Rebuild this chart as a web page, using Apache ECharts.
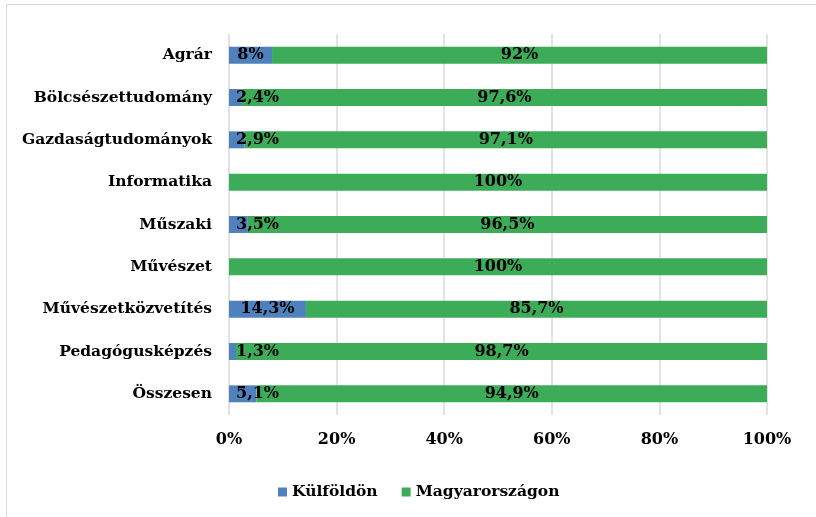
<!DOCTYPE html>
<html lang="hu">
<head>
  <meta charset="UTF-8">
  <title>Külföldön / Magyarországon</title>
  <script src="https://cdn.jsdelivr.net/npm/echarts@6/dist/echarts.min.js"></script>
  <style>
    body { margin: 0; background: #fff; }
    #chart { width: 816px; height: 517px; }
    .frame {
      position: absolute; left: 6px; top: 4px;
      width: 830px; height: 540px;
      border: 1px solid #d9d9d9;
      pointer-events: none;
    }
  </style>
</head>
<body>
  <div id="chart"></div>
  <div class="frame"></div>
  <script>
    // categories top to bottom, as in the picture
    const categories = ['Agrár', 'Bölcsészettudomány', 'Gazdaságtudományok', 'Informatika',
      'Műszaki', 'Művészet', 'Művészetközvetítés', 'Pedagógusképzés', 'Összesen'];
    const kulfoldon = [8, 2.4, 2.9, 0, 3.5, 0, 14.3, 1.3, 5.1];
    const magyarorszagon = [92, 97.6, 97.1, 100, 96.5, 100, 85.7, 98.7, 94.9];
    const xTicks = [0, 20, 40, 60, 80, 100];

    const FONT = 'DejaVu Serif';
    const pct = v => String(v).replace('.', ',') + '%';

    const chart = echarts.init(document.getElementById('chart'));

    const labelBase = {
      show: true,
      color: '#000',
      fontFamily: FONT,
      fontWeight: 'bold',
      fontSize: 16
    };

    chart.setOption({
      animation: false,
      grid: { left: 229, right: 49, top: 34, bottom: 102, containLabel: false },
      legend: {
        left: 273,
        top: 479,
        itemWidth: 9,
        itemHeight: 9,
        itemGap: 24,
        icon: 'rect',
        textStyle: { fontFamily: FONT, fontWeight: 'bold', fontSize: 15.5, color: '#000' },
        data: ['Külföldön', 'Magyarországon']
      },
      xAxis: {
        type: 'value',
        min: 0,
        max: 100,
        interval: 20,
        axisLine: { show: false },
        axisTick: { show: false },
        axisLabel: {
          margin: 17,
          color: '#000',
          fontFamily: FONT,
          fontWeight: 'bold',
          fontSize: 16,
          formatter: v => xTicks.includes(v) ? v + '%' : ''
        },
        splitLine: { lineStyle: { color: '#d9d9d9', width: 1.5 } }
      },
      yAxis: {
        type: 'category',
        data: categories,
        inverse: true,
        axisLine: { show: false },
        axisTick: { show: false },
        axisLabel: {
          margin: 17,
          color: '#000',
          fontFamily: FONT,
          fontWeight: 'bold',
          fontSize: 15.5
        }
      },
      series: [
        {
          name: 'Külföldön',
          type: 'bar',
          stack: 'total',
          barCategoryGap: '60%',
          itemStyle: { color: '#4f81bd' },
          data: kulfoldon.map(v => ({
            value: v,
            label: Object.assign({}, labelBase, {
              position: v < 6 ? 'insideLeft' : 'inside',
              distance: 7,
              formatter: p => p.value > 0 ? pct(p.value) : ''
            })
          }))
        },
        {
          name: 'Magyarországon',
          type: 'bar',
          stack: 'total',
          barCategoryGap: '60%',
          itemStyle: { color: '#3cac58' },
          label: Object.assign({}, labelBase, {
            position: 'inside',
            formatter: p => pct(p.value)
          }),
          data: magyarorszagon
        }
      ]
    });
  </script>
</body>
</html>
